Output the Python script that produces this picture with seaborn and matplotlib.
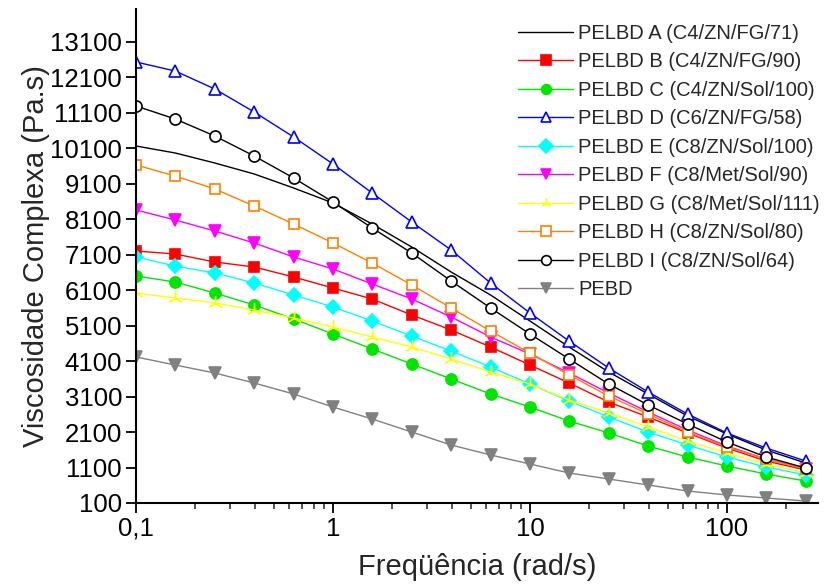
import matplotlib
matplotlib.use("Agg")
import matplotlib.pyplot as plt
import seaborn as sns
import pandas as pd
from matplotlib.ticker import FixedLocator, LogLocator, NullFormatter

freq = [0.1, 0.158, 0.251, 0.398, 0.631, 1, 1.58, 2.51, 3.98, 6.31,
        10, 15.8, 25.1, 39.8, 63.1, 100, 158, 251]

pelbd_a = [10167, 9970, 9688, 9378, 8983, 8560, 7968, 7319, 6614, 5965,
           5232, 4499, 3794, 3174, 2553, 2046, 1595, 1228]
pelbd_b = [7206, 7122, 6896, 6755, 6473, 6163, 5853, 5402, 4979, 4499,
           3992, 3484, 2948, 2525, 2074, 1651, 1284, 1031]
pelbd_c = [6501, 6332, 6022, 5684, 5289, 4866, 4443, 4020, 3597, 3174,
           2807, 2412, 2074, 1707, 1397, 1143, 918, 720]
pelbd_d = [12536, 12282, 11775, 11126, 10421, 9660, 8842, 8024, 7234, 6304,
           5458, 4668, 3907, 3230, 2610, 2074, 1651, 1284]
pelbd_e = [7037, 6783, 6586, 6304, 5966, 5627, 5232, 4809, 4386, 3935,
           3456, 2976, 2525, 2102, 1736, 1397, 1115, 890]
pelbd_f = [8363, 8081, 7770, 7432, 7037, 6699, 6276, 5853, 5345, 4781,
           4302, 3766, 3202, 2666, 2159, 1707, 1341, 1059]
pelbd_g = [6022, 5881, 5740, 5543, 5317, 5063, 4781, 4499, 4161, 3794,
           3456, 3005, 2638, 2243, 1848, 1510, 1200, 946]
pelbd_h = [9632, 9321, 8955, 8475, 7968, 7432, 6868, 6248, 5599, 4950,
           4330, 3710, 3117, 2610, 2102, 1679, 1341, 1059]
pelbd_i = [11295, 10929, 10449, 9885, 9265, 8588, 7855, 7150, 6360, 5599,
           4866, 4161, 3456, 2864, 2328, 1820, 1397, 1087]
pebd = [4217, 3992, 3766, 3484, 3174, 2807, 2469, 2102, 1736, 1454,
        1200, 946, 777, 608, 438, 326, 241, 156]

labels = ["PELBD A (C4/ZN/FG/71)", "PELBD B (C4/ZN/FG/90)", "PELBD C (C4/ZN/Sol/100)",
          "PELBD D (C6/ZN/FG/58)", "PELBD E (C8/ZN/Sol/100)", "PELBD F (C8/Met/Sol/90)",
          "PELBD G (C8/Met/Sol/111)", "PELBD H (C8/ZN/Sol/80)", "PELBD I (C8/ZN/Sol/64)",
          "PEBD"]
series = [pelbd_a, pelbd_b, pelbd_c, pelbd_d, pelbd_e, pelbd_f, pelbd_g, pelbd_h, pelbd_i, pebd]

y_ticks = [100, 1100, 2100, 3100, 4100, 5100, 6100, 7100, 8100, 9100,
           10100, 11100, 12100, 13100]
x_ticks = [0.1, 1, 10, 100]
x_tick_labels = ["0,1", "1", "10", "100"]

styles = [
    dict(color="black", marker=None),
    dict(color="#ff0000", marker="s", mfc="#ff0000", ms=7.5, mew=1.2),
    dict(color="#00e600", marker="o", mfc="#00e600", ms=8, mew=1.2),
    dict(color="#0000ff", marker="^", mfc="white", ms=9, mew=1.2),
    dict(color="#00ffff", marker="D", mfc="#00ffff", ms=7, mew=1.2),
    dict(color="#ff00ff", marker="v", mfc="#ff00ff", ms=9, mew=1.2),
    dict(color="#ffff00", marker=(3, 2, 0), mfc="#ffff00", ms=10, mew=1.0),
    dict(color="#ff8000", marker="s", mfc="white", ms=7.5, mew=1.2),
    dict(color="black", marker="o", mfc="white", ms=8, mew=1.2),
    dict(color="#808080", marker="v", mfc="#808080", ms=9, mew=1.2),
]

sns.set_style("ticks")
plt.rcParams["font.family"] = ["Liberation Sans", "DejaVu Sans"]

fig = plt.figure(figsize=(8.36, 5.85), dpi=100)
ax = fig.add_axes([136 / 836, 1 - 503 / 585, (818 - 136) / 836, (503 - 9) / 585])

for lab, vals, st in zip(labels, series, styles):
    df = pd.DataFrame({"freq": freq, "val": vals})
    kw = dict(color=st["color"], linewidth=1.0)
    if st["marker"] is not None:
        kw.update(marker=st["marker"], markersize=st["ms"],
                  markerfacecolor=st["mfc"], markeredgecolor=st["color"],
                  markeredgewidth=st["mew"])
    sns.lineplot(data=df, x="freq", y="val", ax=ax, label=lab, **kw)

ax.set_xscale("log")
ax.set_xlim(0.1, 290)
ax.set_ylim(100, 14030)
ax.xaxis.set_major_locator(FixedLocator(x_ticks))
ax.set_xticklabels(x_tick_labels)
ax.xaxis.set_minor_locator(LogLocator(base=10, subs=[2, 3, 4, 5, 6, 7, 8, 9]))
ax.xaxis.set_minor_formatter(NullFormatter())
ax.set_yticks(y_ticks)
ax.set_yticklabels([str(v) for v in y_ticks])

ax.tick_params(axis="both", which="major", labelsize=18.5, length=7, width=1.3,
               direction="out", colors="black", pad=3)
ax.tick_params(axis="x", which="minor", length=4, width=1.1, direction="out")
for s in ["top", "right"]:
    ax.spines[s].set_visible(False)
for s in ["left", "bottom"]:
    ax.spines[s].set_linewidth(1.5)
    ax.spines[s].set_color("black")

ax.set_xlabel("Freqüência (rad/s)", fontsize=21, labelpad=9)
ax.set_ylabel("Viscosidade Complexa (Pa.s)", fontsize=21, labelpad=0)

leg = ax.legend(loc="upper left", bbox_to_anchor=(518 / 836, 1 - 24 / 585),
                bbox_transform=fig.transFigure, frameon=False, fontsize=14.5,
                handlelength=2.75, handletextpad=0.25, labelspacing=0.47,
                borderpad=0, borderaxespad=0)
for h in leg.legend_handles:
    h.set_markersize(7)

fig.savefig("out.png", dpi=100)
